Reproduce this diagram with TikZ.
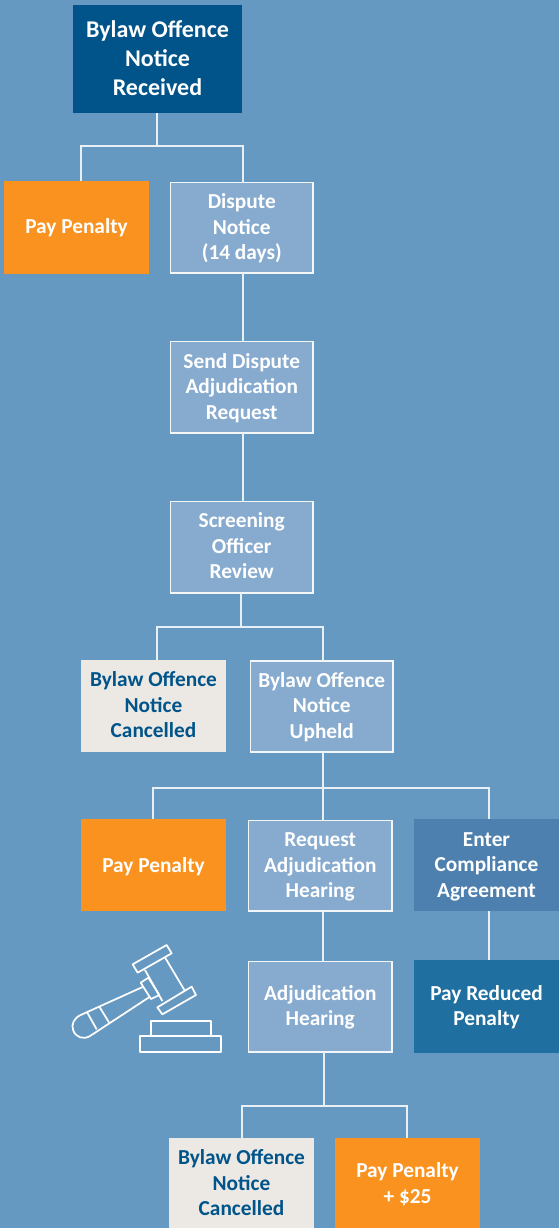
\documentclass[tikz,border=0pt]{standalone}
\usepackage{fontspec}
\setmainfont{Carlito}
\definecolor{bgc}{HTML}{6699C2}
\definecolor{boxl}{HTML}{87ABCF}
\definecolor{topc}{HTML}{00548A}
\definecolor{orangec}{HTML}{F9921E}
\definecolor{paper}{HTML}{ECE8E4}
\definecolor{enterc}{HTML}{4D80AF}
\definecolor{reducedc}{HTML}{1F6FA0}
% name, style, x1, y1, x2, y2, text shift in px (down), text
\newcommand{\pbox}[8]{%
  \pgfmathsetmacro{\bw}{(#5-#3)*0.75}%
  \pgfmathsetmacro{\bh}{(#6-#4)*0.75}%
  \pgfmathsetmacro{\txa}{16+#7*0.75}%
  \pgfmathsetmacro{\txb}{8-#7*0.75}%
  \node[basebox,#2,minimum width=\bw pt,minimum height=\bh pt] (#1) at ({(#3+#5)/2},{(#4+#6)/2})
    {\rule{0pt}{\txa pt}#8\rule[-\txb pt]{0pt}{0pt}};}
\tikzset{
  basebox/.style={align=center,inner sep=0pt,outer sep=0pt,text=white,font=\fontsize{16pt}{19.15pt}\selectfont\bfseries},
  topbox/.style={fill=topc,font=\fontsize{18pt}{21.75pt}\selectfont\bfseries},
  paybox/.style={fill=orangec},
  flowbox/.style={fill=boxl,draw=white!92!bgc,line width=0.95pt},
  donebox/.style={fill=paper,text=topc},
  enterbox/.style={fill=enterc},
  reducedbox/.style={fill=reducedc},
  link/.style={draw=white!85!bgc,line width=1.05pt},
  gavel/.style={draw=white,line width=1.3pt,line join=round}
}
\begin{document}
\begin{tikzpicture}[x=0.75pt,y=-0.75pt]
\useasboundingbox (0,0) rectangle (559,1228);
\fill[bgc] (0,0) rectangle (559,1228);
% junctions
\coordinate (j1) at (157,146);
\coordinate (j1l) at (81,146);
\coordinate (j1r) at (243,146);
\coordinate (j2) at (241,627);
\coordinate (j2l) at (157,627);
\coordinate (j2r) at (323,627);
\coordinate (j3) at (323,788);
\coordinate (j3l) at (153,788);
\coordinate (j3r) at (489,788);
\coordinate (j4) at (324,1106);
\coordinate (j4l) at (242,1106);
\coordinate (j4r) at (407,1106);
\pbox{received}{topbox}{73}{5}{242}{113}{2}{Bylaw Offence\\Notice\\Received}
\pbox{pay1}{paybox}{4}{181}{149}{274}{1}{Pay Penalty}
\pbox{dispute}{flowbox}{170.5}{182.5}{313}{273}{1}{Dispute\\Notice\\(14 days)}
\pbox{send}{flowbox}{170.5}{341.5}{313}{433}{1}{Send Dispute\\Adjudication\\Request}
\pbox{screen}{flowbox}{170.5}{501.5}{313}{593}{0.5}{Screening\\Officer\\Review}
\pbox{cancel1}{donebox}{81}{660}{226}{752}{1}{Bylaw Offence\\Notice\\Cancelled}
\pbox{upheld}{flowbox}{250.5}{661}{393}{752}{1}{Bylaw Offence\\Notice\\Upheld}
\pbox{pay2}{paybox}{81}{819}{226}{911}{2}{Pay Penalty}
\pbox{request}{flowbox}{248.5}{820.5}{392}{911}{1}{Request\\Adjudication\\Hearing}
\pbox{enter}{enterbox}{414}{819}{559}{911}{1.5}{Enter\\Compliance\\Agreement}
\pbox{hearing}{flowbox}{248.5}{961.5}{392}{1052}{1}{Adjudication\\Hearing}
\pbox{reduced}{reducedbox}{414}{960}{559}{1053}{1}{Pay Reduced\\Penalty}
\pbox{cancel2}{donebox}{169}{1138}{314}{1228}{2}{Bylaw Offence\\Notice\\Cancelled}
\pbox{pay3}{paybox}{335}{1138}{480}{1228}{2}{Pay Penalty\\+ \$25}
% connectors
\draw[link] (received.south -| j1) -- (j1);
\draw[link] (pay1.north -| j1l) |- (j1r) -- (dispute.north -| j1r);
\draw[link] (dispute.south -| j1r) -- (send.north -| j1r);
\draw[link] (send.south -| j1r) -- (screen.north -| j1r);
\draw[link] (screen.south -| j2) -- (j2);
\draw[link] (cancel1.north -| j2l) |- (j2r) -- (upheld.north -| j2r);
\draw[link] (upheld.south -| j3) -- (j3);
\draw[link] (pay2.north -| j3l) |- (j3r) -- (enter.north -| j3r);
\draw[link] (j3) -- (request.north -| j3);
\draw[link] (request.south -| j3) -- (hearing.north -| j3);
\draw[link] (enter.south -| j3r) -- (reduced.north -| j3r);
\draw[link] (hearing.south -| j4) -- (j4);
\draw[link] (cancel2.north -| j4l) |- (j4r) -- (pay3.north -| j4r);
% gavel
\begin{scope}[shift={(50,930)},x=0.25pt,y=-0.25pt]
\draw[gavel] (248,103) -- (350,45) -- (365,70) -- (263,128) -- cycle;
\draw[gavel] (322,232) -- (425,170) -- (438,195) -- (337,253) -- cycle;
\draw[gavel] (285,120) -- (337,213);
\draw[gavel] (346,84) -- (405,183);
\draw[gavel] (272,158) -- (295,143) -- (328,195) -- (303,207) -- cycle;
\draw[gavel] (280,170) -- (92,255) .. controls (72,264) and (62,284) .. (70,302) .. controls (78,322) and (100,330) .. (120,318) -- (300,200);
\draw[gavel] (112,248) -- (140,298);
\draw[gavel] (148,230) -- (177,277);
\draw[gavel] (302,318) -- (302,272) -- (483,272) -- (483,318);
\draw[gavel] (271,318) rectangle (513,367);
\end{scope}
\end{tikzpicture}
\end{document}
